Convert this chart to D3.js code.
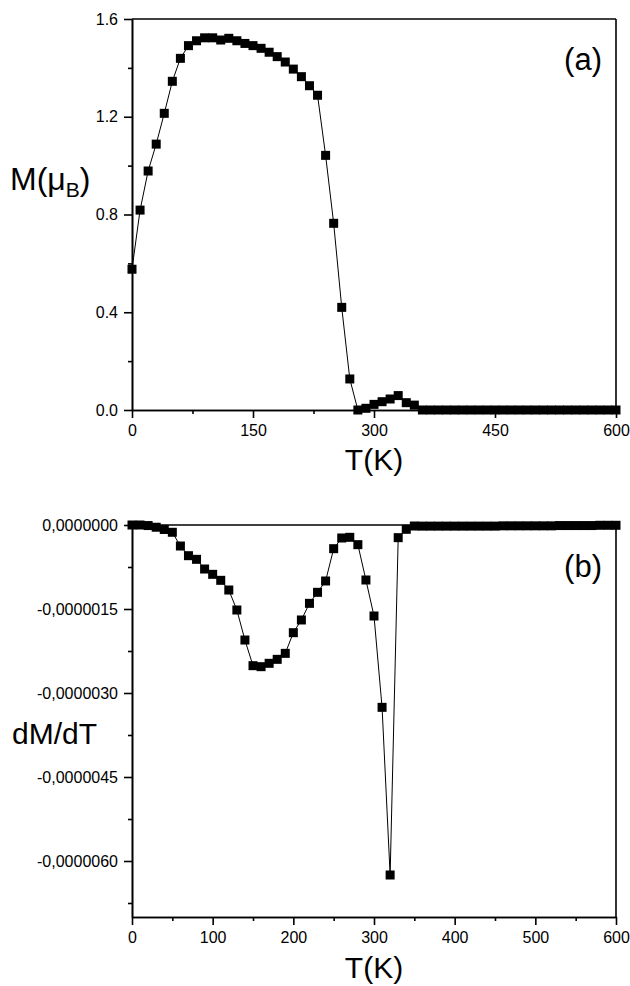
<!DOCTYPE html>
<html>
<head>
<meta charset="utf-8">
<script src="https://cdn.jsdelivr.net/npm/d3@7"></script>
<style>
  body { margin: 0; background: #fff; }
  text { font-family: "Liberation Sans", Arial, sans-serif; fill: #000; }
  .axis path, .axis line { stroke: #000; stroke-width: 1.6; }
</style>
</head>
<body>
<script>
// temperatures (K), one point every 10 K
const temps = [0, 10, 20, 30, 40, 50, 60, 70, 80, 90, 100, 110, 120, 130, 140, 150, 160, 170, 180, 190,
  200, 210, 220, 230, 240, 250, 260, 270, 280, 290, 300, 310, 320, 330, 340, 350, 360, 370, 380, 390,
  400, 410, 420, 430, 440, 450, 460, 470, 480, 490, 500, 510, 520, 530, 540, 550, 560, 570, 580, 590, 600];

// (a) magnetization, mu_B
const magnet = [0.576, 0.818, 0.978, 1.088, 1.214, 1.345, 1.439, 1.491, 1.511, 1.523, 1.523, 1.514, 1.521, 1.511,
  1.500, 1.491, 1.480, 1.464, 1.446, 1.424, 1.395, 1.364, 1.327, 1.288, 1.042, 0.764, 0.420, 0.127, 0.000,
  0.007, 0.023, 0.034, 0.045, 0.059, 0.030, 0.020, 0, 0, 0, 0, 0, 0, 0, 0, 0, 0, 0, 0, 0, 0, 0, 0, 0, 0, 0,
  0, 0, 0, 0, 0, 0];

// (b) dM/dT, in units of 1e-6
const dMdT = [0, 0, -0.01, -0.04, -0.08, -0.13, -0.375, -0.548, -0.613, -0.786, -0.881, -0.988, -1.161, -1.518,
  -2.054, -2.512, -2.530, -2.470, -2.399, -2.292, -1.923, -1.696, -1.399, -1.202, -1.0, -0.423, -0.232, -0.220,
  -0.351, -0.982, -1.625, -3.256, -6.25, -0.226, -0.077, -0.018, -0.02, -0.02, -0.02, -0.02, -0.02, -0.02,
  -0.02, -0.02, -0.02, -0.02, -0.015, -0.015, -0.015, -0.015, -0.015, -0.015, -0.015, -0.01, -0.01, -0.01,
  -0.01, -0.01, -0.005, -0.005, -0.005];

const xTicksA = [0, 150, 300, 450, 600];
const xMinorA = [75, 225, 375, 525];
const yTicksA = [0, 0.4, 0.8, 1.2, 1.6];
const yMinorA = [0.2, 0.6, 1.0, 1.4];
const xTicksB = [0, 100, 200, 300, 400, 500, 600];
const xMinorB = [50, 150, 250, 350, 450, 550];
const yTicksB = [0, -1.5, -3, -4.5, -6];
const yMinorB = [-0.75, -2.25, -3.75, -5.25, -6.75];

const width = 630, height = 986;
const left = 132, right = 616;
const markSize = 9;

const svg = d3.select('body').append('svg')
  .attr('width', width)
  .attr('height', height);

function panel(opt) {
  const x = d3.scaleLinear().domain([0, 600]).range([left, right]);
  const y = d3.scaleLinear().domain(opt.yDomain).range([opt.bottom, opt.top]);
  const g = svg.append('g');

  // frame top/right
  g.append('line').attr('x1', left).attr('x2', right).attr('y1', opt.top).attr('y2', opt.top)
    .attr('stroke', '#000').attr('stroke-width', 1.6);
  g.append('line').attr('x1', right).attr('x2', right).attr('y1', opt.top).attr('y2', opt.bottom)
    .attr('stroke', '#000').attr('stroke-width', 1.6);

  // minor ticks
  g.append('g').attr('class', 'axis').attr('transform', `translate(0,${opt.bottom})`)
    .call(d3.axisBottom(x).tickValues(opt.xMinor).tickSize(4).tickSizeOuter(0).tickFormat(''));
  g.append('g').attr('class', 'axis').attr('transform', `translate(${left},0)`)
    .call(d3.axisLeft(y).tickValues(opt.yMinor).tickSize(4).tickSizeOuter(0).tickFormat(''));

  // major axes
  g.append('g').attr('class', 'axis').attr('transform', `translate(0,${opt.bottom})`)
    .call(d3.axisBottom(x).tickValues(opt.xTicks).tickSizeInner(8).tickSizeOuter(0).tickPadding(7)
      .tickFormat(d3.format('d')))
    .selectAll('text').style('font-size', '16px');
  g.append('g').attr('class', 'axis').attr('transform', `translate(${left},0)`)
    .call(d3.axisLeft(y).tickValues(opt.yTicks).tickSizeInner(8).tickSizeOuter(0).tickPadding(6)
      .tickFormat(opt.yFormat))
    .selectAll('text').style('font-size', '16px');

  const line = d3.line().x((d, i) => x(temps[i])).y(d => y(d));
  g.append('path').datum(opt.values)
    .attr('d', line)
    .attr('fill', 'none')
    .attr('stroke', '#000')
    .attr('stroke-width', 1);

  g.selectAll('rect.pt').data(opt.values).enter().append('rect')
    .attr('class', 'pt')
    .attr('x', (d, i) => x(temps[i]) - markSize / 2)
    .attr('y', d => y(d) - markSize / 2)
    .attr('width', markSize)
    .attr('height', markSize)
    .attr('fill', '#000');

  // x title
  g.append('text')
    .attr('x', (left + right) / 2)
    .attr('y', opt.xTitleY)
    .attr('text-anchor', 'middle')
    .style('font-size', '30px')
    .text('T(K)');

  // panel tag
  g.append('text')
    .attr('x', 602)
    .attr('y', opt.tagY)
    .attr('text-anchor', 'end')
    .style('font-size', '31px')
    .text(opt.tag);

  return g;
}

panel({
  values: magnet, yDomain: [0, 1.6], top: 19, bottom: 410,
  xTicks: xTicksA, xMinor: xMinorA, yTicks: yTicksA, yMinor: yMinorA,
  yFormat: d3.format('.1f'), xTitleY: 470, tag: '(a)', tagY: 70
});

panel({
  values: dMdT, yDomain: [-7, 0], top: 525, bottom: 917,
  xTicks: xTicksB, xMinor: xMinorB, yTicks: yTicksB, yMinor: yMinorB,
  yFormat: d => (d * 1e-6).toFixed(7).replace('.', ',').replace('-0,0000000', '0,0000000'),
  xTitleY: 978, tag: '(b)', tagY: 577
});

// y titles
const mLabel = svg.append('text').attr('x', 10).attr('y', 190).style('font-size', '32px');
mLabel.append('tspan').text('M(\u03BC');
mLabel.append('tspan').attr('dy', 7).style('font-size', '21px').text('B');
mLabel.append('tspan').attr('dy', -7).text(')');

svg.append('text').attr('x', 12).attr('y', 744).style('font-size', '30px').text('dM/dT');
</script>
</body>
</html>
